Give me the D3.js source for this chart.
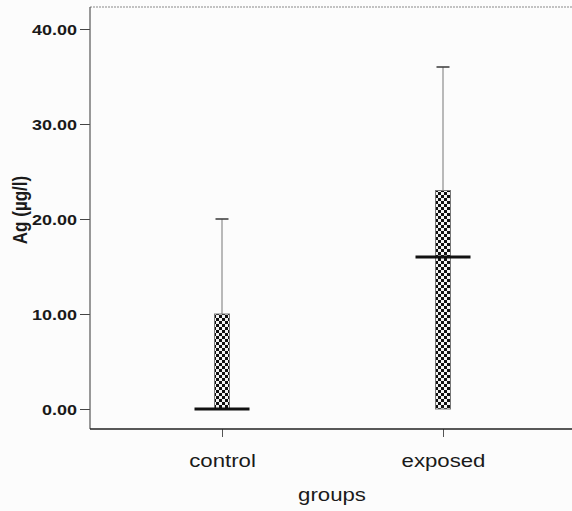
<!DOCTYPE html>
<html>
<head>
<meta charset="utf-8">
<script src="https://cdn.jsdelivr.net/npm/d3@7"></script>
<style>
  html, body { margin: 0; padding: 0; background: #fcfcfc; }
  svg { display: block; }
</style>
</head>
<body>
<script>
// ---- data ----
const groups = ["control", "exposed"];
const minVals = [0, 0];
const q1Vals = [0, 0];
const medianVals = [0, 16];
const q3Vals = [10, 23];
const maxVals = [20, 36];
const yTicks = [0, 10, 20, 30, 40];
const xTitle = "groups";
const yTitle = "Ag (µg/l)";

const W = 572, H = 511;
const padL = 90, padT = 7, padB = 429, padR = 580;

const svg = d3.select("body").append("svg").attr("width", W).attr("height", H);

const defs = svg.append("defs");
const pat = defs.append("pattern").attr("id", "checker")
  .attr("patternUnits", "userSpaceOnUse").attr("width", 6).attr("height", 6);
pat.append("rect").attr("width", 6).attr("height", 6).attr("fill", "#f4f4f4");
pat.append("rect").attr("x", 0).attr("y", 0).attr("width", 3).attr("height", 3).attr("fill", "#111");
pat.append("rect").attr("x", 3).attr("y", 3).attr("width", 3).attr("height", 3).attr("fill", "#111");

const y = d3.scaleLinear().domain([0, 40]).range([409, 29]);
const x = d3.scalePoint().domain(groups).range([222, 443]);

const FONT = "'Liberation Sans', Arial, sans-serif";
const SX = 1.2;

// frame top (dotted-ish light line)
svg.append("line").attr("x1", padL).attr("x2", padR).attr("y1", padT).attr("y2", padT)
  .attr("stroke", "#888").attr("stroke-width", 1).attr("stroke-dasharray", "2,1");

// y axis
const yAxis = d3.axisLeft(y).tickValues(yTicks).tickSize(10).tickFormat(d3.format(".2f"));
const gy = svg.append("g").attr("transform", `translate(${padL},0)`).call(yAxis);
gy.select(".domain").remove();
gy.selectAll(".tick line").attr("stroke", "#444").attr("stroke-width", 1);
gy.selectAll(".tick text")
  .attr("x", null).attr("dy", null)
  .attr("font-family", FONT).attr("font-weight", "bold").attr("font-size", 15)
  .attr("fill", "#1a1a1a").attr("text-anchor", "end")
  .attr("transform", `translate(-13,5.5) scale(${SX},1)`);
svg.append("line").attr("x1", padL).attr("x2", padL).attr("y1", padT).attr("y2", padB)
  .attr("stroke", "#555").attr("stroke-width", 1.2);

// x axis
const xAxis = d3.axisBottom(x).tickSize(8).tickSizeOuter(0);
const gx = svg.append("g").attr("transform", `translate(0,${padB})`).call(xAxis);
gx.select(".domain").remove();
gx.selectAll(".tick line").attr("stroke", "#555").attr("stroke-width", 1);
gx.selectAll(".tick text")
  .attr("y", null).attr("dy", null)
  .attr("font-family", FONT).attr("font-size", 18.5).attr("fill", "#1a1a1a")
  .attr("text-anchor", "middle")
  .attr("transform", `translate(0,38) scale(${SX},1)`);
svg.append("line").attr("x1", padL).attr("x2", padR).attr("y1", padB).attr("y2", padB)
  .attr("stroke", "#222").attr("stroke-width", 1.5);

// titles
svg.append("text").attr("transform", `translate(332,501) scale(${SX},1)`)
  .attr("text-anchor", "middle").attr("font-family", FONT).attr("font-size", 18.5)
  .attr("fill", "#1a1a1a").text(xTitle);
svg.append("text").attr("transform", `translate(27,210) rotate(-90) scale(1,${SX})`)
  .attr("text-anchor", "middle").attr("font-family", FONT).attr("font-weight", "bold")
  .attr("font-size", 17).attr("fill", "#1a1a1a").text(yTitle);

// boxes
const data = groups.map((g, i) => ({
  g, min: minVals[i], q1: q1Vals[i], med: medianVals[i], q3: q3Vals[i], max: maxVals[i]
}));
const boxW = 15, capW = 13, medW = 55;
const gb = svg.append("g");
data.forEach(d => {
  const cx = x(d.g);
  // whisker
  gb.append("line").attr("x1", cx).attr("x2", cx).attr("y1", y(d.q3)).attr("y2", y(d.max))
    .attr("stroke", "#777").attr("stroke-width", 1);
  gb.append("line").attr("x1", cx - capW / 2).attr("x2", cx + capW / 2)
    .attr("y1", y(d.max)).attr("y2", y(d.max))
    .attr("stroke", "#444").attr("stroke-width", 1.6);
  if (d.min < d.q1) {
    gb.append("line").attr("x1", cx).attr("x2", cx).attr("y1", y(d.q1)).attr("y2", y(d.min))
      .attr("stroke", "#777").attr("stroke-width", 1);
  }
  // box
  gb.append("rect").attr("x", cx - boxW / 2).attr("width", boxW)
    .attr("y", y(d.q3)).attr("height", y(d.q1) - y(d.q3))
    .attr("fill", "url(#checker)").attr("stroke", "#777").attr("stroke-width", 1);
  // median
  gb.append("line").attr("x1", cx - medW / 2).attr("x2", cx + medW / 2)
    .attr("y1", y(d.med)).attr("y2", y(d.med))
    .attr("stroke", "#111").attr("stroke-width", 2.8);
});
</script>
</body>
</html>
